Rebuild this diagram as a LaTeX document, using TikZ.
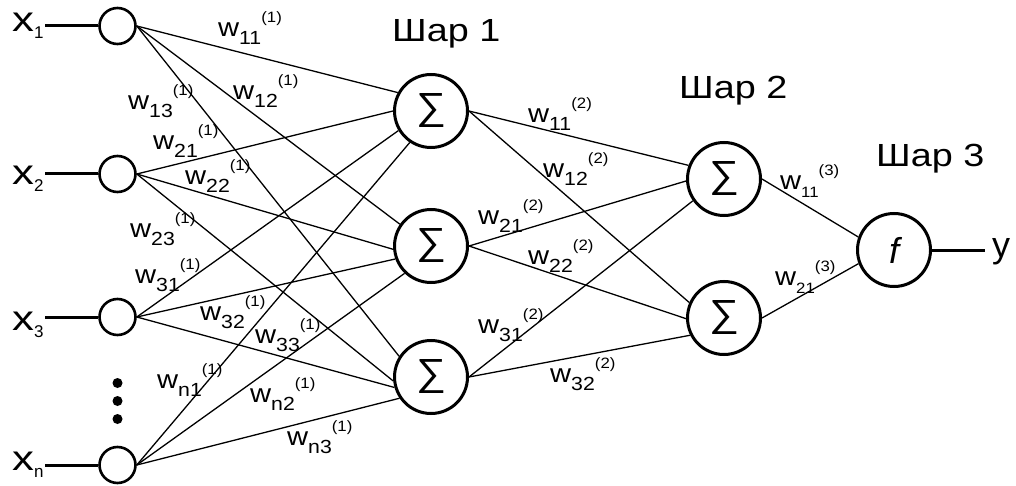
\documentclass[tikz,border=0pt]{standalone}
\usepackage{fontspec}
\setmainfont{Liberation Sans}
\usepackage{graphicx}
\newcommand\wlab[3][19]{\scalebox{1.12}[1]{\fontsize{26}{26}\selectfont w\raisebox{-8pt}{\fontsize{#1}{#1}\selectfont #2}\raisebox{14pt}{\fontsize{15}{15}\selectfont (#3)}}}
\newcommand\xlab[1]{\scalebox{1.25}[1]{\fontsize{35}{35}\selectfont x}\raisebox{-7pt}{\fontsize{17}{17}\selectfont #1}}
\newcommand\sumsym{\resizebox*{30pt}{34pt}{∑}}
\newcommand\layertitle[1]{\scalebox{1.18}[1]{\fontsize{32}{32}\selectfont #1}}
\begin{document}
\begin{tikzpicture}[x=1pt,y=-1pt,
  inp/.style={circle,draw,line width=2.6pt,minimum size=36pt,inner sep=0pt},
  sumn/.style={circle,draw,line width=3pt,minimum size=73pt,inner sep=0pt},
  conn/.style={line width=1.3pt},
  heavy/.style={line width=3pt},
  lab/.style={anchor=base west,inner sep=0pt},
  dot/.style={circle,fill,minimum size=10pt,inner sep=0pt}]
\useasboundingbox (0,0) rectangle (1016,486);
% input nodes
\node[inp] (i1) at (117.5,26) {};
\node[inp] (i2) at (117.5,174) {};
\node[inp] (i3) at (117.5,317) {};
\node[inp] (in) at (117.5,465) {};
\node[dot] (d1) at (117.5,383) {};
\node[dot] (d2) at (117.5,401) {};
\node[dot] (d3) at (117.5,419) {};
% input labels
\node[lab] (lx1) at (12,32) {\xlab{1}};
\node[lab] (lx2) at (12,185) {\xlab{2}};
\node[lab] (lx3) at (12,330) {\xlab{3}};
\node[lab] (lxn) at (12,470) {\xlab{n}};
\coordinate (e1) at (45,26);
\coordinate (e2) at (45,174);
\coordinate (e3) at (45,317);
\coordinate (en) at (45,465);
\draw[heavy] (e1) -- (i1.west);
\draw[heavy] (e2) -- (i2.west);
\draw[heavy] (e3) -- (i3.west);
\draw[heavy] (en) -- (in.west);
% hidden layer 1
\node[sumn] (h1) at (431,111) {\sumsym};
\node[sumn] (h2) at (431,246) {\sumsym};
\node[sumn] (h3) at (431,377) {\sumsym};
% layer 2
\node[sumn] (g1) at (724,179) {\sumsym};
\node[sumn] (g2) at (724,318) {\sumsym};
% output
\node[sumn] (f) at (894,250) {\fontsize{36}{36}\selectfont\itshape f};
\coordinate (ey) at (985,250);
\draw[heavy] (f.east) -- (ey);
\node[lab] (ly) at (992,257) {\fontsize{36}{36}\selectfont y};
% connectors layer 1
\draw[conn] (i1.east) -- (h1.151);
\draw[conn] (i2.east) -- (h1.180);
\draw[conn] (i3.east) -- (h1.211);
\draw[conn] (in.east) -- (h1.236);
\draw[conn] (i1.east) -- (h2.145);
\draw[conn] (i2.east) -- (h2.185);
\draw[conn] (i3.east) -- (h2.200);
\draw[conn] (in.east) -- (h2.226);
\draw[conn] (i1.east) -- (h3.147);
\draw[conn] (i2.east) -- (h3.186);
\draw[conn] (i3.east) -- (h3.196);
\draw[conn] (in.east) -- (h3.214);
% connectors layer 2
\draw[conn] (h1.east) -- (g1.159);
\draw[conn] (h2.east) -- (g1.183);
\draw[conn] (h3.east) -- (g1.215);
\draw[conn] (h1.east) -- (g2.156);
\draw[conn] (h2.east) -- (g2.181);
\draw[conn] (h3.east) -- (g2.207);
% connectors layer 3
\draw[conn] (g1.east) -- (f.160);
\draw[conn] (g2.east) -- (f.201);
% weight labels layer 1
\node[lab] (w111) at (218,37) {\wlab{11}{1}};
\node[lab] (w121) at (233,100) {\wlab{12}{1}};
\node[lab] (w131) at (128,110) {\wlab{13}{1}};
\node[lab] (w211) at (153,150) {\wlab{21}{1}};
\node[lab] (w221) at (185,185) {\wlab{22}{1}};
\node[lab] (w231) at (130,237) {\wlab{23}{1}};
\node[lab] (w311) at (135,283) {\wlab{31}{1}};
\node[lab] (w321) at (200,320) {\wlab{32}{1}};
\node[lab] (w331) at (255,343) {\wlab{33}{1}};
\node[lab] (wn11) at (157,388) {\wlab{n1}{1}};
\node[lab] (wn21) at (250,402) {\wlab{n2}{1}};
\node[lab] (wn31) at (287,445) {\wlab{n3}{1}};
% weight labels layer 2
\node[lab] (w112) at (528,123) {\wlab{11}{2}};
\node[lab] (w122) at (543,178) {\wlab{12}{2}};
\node[lab] (w212) at (478,225) {\wlab{21}{2}};
\node[lab] (w222) at (528,264) {\wlab{22}{2}};
\node[lab] (w312) at (478,333) {\wlab{31}{2}};
\node[lab] (w322) at (550,382) {\wlab{32}{2}};
% weight labels layer 3
\node[lab] (w113) at (780,190) {\wlab[15]{11}{3}};
\node[lab] (w213) at (775,285) {\wlab[15]{21}{3}};
% layer titles
\node[lab] (t1) at (392,42) {\layertitle{Шар 1}};
\node[lab] (t2) at (679,99) {\layertitle{Шар 2}};
\node[lab] (t3) at (876,167) {\layertitle{Шар 3}};
\end{tikzpicture}
\end{document}
